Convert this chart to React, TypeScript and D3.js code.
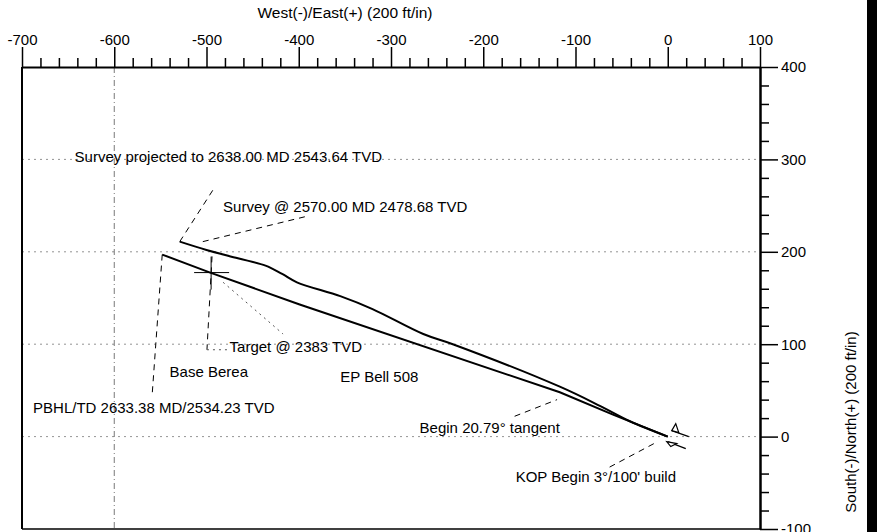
import React, { useEffect, useRef } from 'react';
import * as d3 from 'd3';

// axis ticks (ft)
const eastTicks = [-700, -600, -500, -400, -300, -200, -100, 0, 100];
const northTicks = [-100, 0, 100, 200, 300, 400];
const gridEast = [-600];
const gridNorth = [0, 100, 200, 300];

// planned well path, PBHL -> surface
const planEast = [-548, -496, -399, -117, -60, 0];
const planNorth = [197, 177.5, 143, 48, 24, 0];

// surveyed well path, projected end -> surface
const surveyEast = [-529, -500, -466, -436, -418, -402, -355, -320, -265, -233, -117, -73, -41, 0];
const surveyNorth = [211, 202, 193, 185, 176, 167, 152, 138, 111, 100, 54, 33, 16.6, 0];

const target = { e: -495, n: 177.5 };

const labelText = [
  'Survey projected to 2638.00 MD 2543.64 TVD',
  'Survey @ 2570.00 MD 2478.68 TVD',
  'Target @ 2383 TVD',
  'Base Berea',
  'EP Bell 508',
  'PBHL/TD 2633.38 MD/2534.23 TVD',
  'Begin 20.79° tangent',
  "KOP Begin 3°/100' build",
];

// label anchors in plot units
const labelAt: [number, number, string][] = [
  [-643, 297, 'start'],
  [-482, 243, 'start'],
  [-475, 92, 'start'],
  [-540, 64, 'start'],
  [-355, 59, 'start'],
  [-688, 26, 'start'],
  [-269, 4, 'start'],
  [9, -49, 'end'],
];

// leader lines [e1, n1, e2, n2, style]
const leaders: [number, number, number, number, string][] = [
  [-529, 211, -491, 270, 'dash'],
  [-504, 211, -393, 238, 'dash'],
  [-548, 197, -559, 44, 'dash'],
  [-494, 195, -499.5, 94, 'dash'],
  [-499.5, 94, -475, 94, 'dot'],
  [-482, 167, -417, 111, 'dot'],
  [-166, 22, -120, 40, 'dash'],
  [-63, -33, -12, -6, 'dash'],
];

const W = 877;
const H = 532;
const FONT = "'Liberation Sans', Arial, Helvetica, sans-serif";

const PlanView: React.FC = () => {
  const svgRef = useRef<SVGSVGElement>(null);

  useEffect(() => {
    if (!svgRef.current) return;
    const svg = d3.select(svgRef.current);
    svg.selectAll('*').remove();

    const x = d3.scaleLinear().domain([-700, 100]).range([22, 760]);
    const y = d3.scaleLinear().domain([-100, 400]).range([529, 67]);
    const fmt = (d: any) => String(d); // plain hyphen minus, like the plot

    svg.append('rect').attr('width', W).attr('height', H).attr('fill', '#fff');

    // grid
    svg.append('g')
      .selectAll('line')
      .data(gridNorth)
      .join('line')
      .attr('x1', x(-700)).attr('x2', x(100))
      .attr('y1', d => y(d)).attr('y2', d => y(d))
      .attr('stroke', '#777').attr('stroke-width', 0.8)
      .attr('stroke-dasharray', '2,4');
    svg.append('g')
      .selectAll('line')
      .data(gridEast)
      .join('line')
      .attr('x1', d => x(d)).attr('x2', d => x(d))
      .attr('y1', y(400)).attr('y2', y(-100))
      .attr('stroke', '#555').attr('stroke-width', 0.8)
      .attr('stroke-dasharray', '6,3,1,3');

    // frame (left + bottom)
    svg.append('line')
      .attr('x1', x(-700)).attr('x2', x(-700))
      .attr('y1', y(400)).attr('y2', y(-100))
      .attr('stroke', '#000').attr('stroke-width', 2);
    svg.append('line')
      .attr('x1', x(-700)).attr('x2', x(100))
      .attr('y1', y(-100)).attr('y2', y(-100))
      .attr('stroke', '#000').attr('stroke-width', 1.5);

    // top axis
    const minorE = d3.range(-700, 101, 20).filter(v => v % 100 !== 0);
    const topMinor = svg.append('g').attr('transform', `translate(0,${y(400)})`)
      .call(d3.axisTop(x).tickValues(minorE).tickSize(9).tickSizeOuter(0).tickFormat(() => ''));
    topMinor.select('.domain').remove();
    const top = svg.append('g').attr('transform', `translate(0,${y(400)})`)
      .call(d3.axisTop(x).tickValues(eastTicks).tickSize(20).tickSizeOuter(0).tickPadding(2).tickFormat(fmt));
    top.select('.domain').attr('stroke-width', 2);

    // right axis
    const minorN = d3.range(-100, 401, 20).filter(v => v % 100 !== 0);
    const rightMinor = svg.append('g').attr('transform', `translate(${x(100)},0)`)
      .call(d3.axisRight(y).tickValues(minorN).tickSize(9).tickSizeOuter(0).tickFormat(() => ''));
    rightMinor.select('.domain').remove();
    const right = svg.append('g').attr('transform', `translate(${x(100)},0)`)
      .call(d3.axisRight(y).tickValues(northTicks).tickSize(18).tickSizeOuter(0).tickPadding(3).tickFormat(fmt));
    right.select('.domain').attr('stroke-width', 2.5);

    svg.selectAll('.tick line').attr('stroke', '#000').attr('stroke-width', 1.5);
    svg.selectAll('.tick text')
      .attr('font-family', FONT).attr('font-size', 15).attr('fill', '#000');

    // axis titles
    svg.append('text')
      .attr('x', 345).attr('y', 18)
      .attr('text-anchor', 'middle')
      .attr('font-family', FONT).attr('font-size', 15.5)
      .text('West(-)/East(+) (200 ft/in)');
    svg.append('text')
      .attr('transform', 'translate(856,422) rotate(-90)')
      .attr('text-anchor', 'middle')
      .attr('font-family', FONT).attr('font-size', 15)
      .text('South(-)/North(+) (200 ft/in)');

    // thick bar on the right edge
    svg.append('rect').attr('x', 867).attr('y', 0).attr('width', 10).attr('height', H).attr('fill', '#000');

    // leaders
    svg.append('g')
      .selectAll('line')
      .data(leaders)
      .join('line')
      .attr('x1', d => x(d[0])).attr('y1', d => y(d[1]))
      .attr('x2', d => x(d[2])).attr('y2', d => y(d[3]))
      .attr('stroke', d => (d[4] === 'dot' ? '#555' : '#000'))
      .attr('stroke-width', 1)
      .attr('stroke-dasharray', d => (d[4] === 'dot' ? '2,4' : '6,5'));

    // well paths
    const plan = planEast.map((e, i) => [e, planNorth[i]] as [number, number]);
    const survey = surveyEast.map((e, i) => [e, surveyNorth[i]] as [number, number]);
    const planLine = d3.line<[number, number]>().x(d => x(d[0])).y(d => y(d[1]));
    const surveyLine = d3.line<[number, number]>().x(d => x(d[0])).y(d => y(d[1])).curve(d3.curveCatmullRom);
    svg.append('path').attr('d', planLine(plan)!)
      .attr('fill', 'none').attr('stroke', '#000').attr('stroke-width', 2);
    svg.append('path').attr('d', surveyLine(survey)!)
      .attr('fill', 'none').attr('stroke', '#000').attr('stroke-width', 2);

    // surface tie-in marks
    const tx = x(0);
    const ty = y(0);
    svg.append('line').attr('x1', tx + 4).attr('y1', ty - 6).attr('x2', tx + 21).attr('y2', ty)
      .attr('stroke', '#000').attr('stroke-width', 1.3);
    svg.append('line').attr('x1', tx).attr('y1', ty + 5).attr('x2', tx + 18).attr('y2', ty + 12)
      .attr('stroke', '#000').attr('stroke-width', 1.3);
    svg.append('path').attr('d', `M${tx + 4},${ty - 6} L${tx + 8},${ty - 13} L${tx + 11},${ty - 4} Z`)
      .attr('fill', '#fff').attr('stroke', '#000').attr('stroke-width', 1.2);
    svg.append('path').attr('d', `M${tx - 1},${ty + 5} L${tx + 3},${ty + 10} L${tx + 9},${ty + 7} Z`)
      .attr('fill', '#fff').attr('stroke', '#000').attr('stroke-width', 1.2);

    // target cross
    svg.append('line')
      .attr('x1', x(target.e) - 17).attr('x2', x(target.e) + 18)
      .attr('y1', y(target.n)).attr('y2', y(target.n))
      .attr('stroke', '#000').attr('stroke-width', 1);
    svg.append('line')
      .attr('x1', x(target.e)).attr('x2', x(target.e))
      .attr('y1', y(target.n) - 16).attr('y2', y(target.n) + 17)
      .attr('stroke', '#000').attr('stroke-width', 1);

    // annotations
    svg.append('g')
      .selectAll('text')
      .data(labelText)
      .join('text')
      .attr('x', (d, i) => x(labelAt[i][0]))
      .attr('y', (d, i) => y(labelAt[i][1]))
      .attr('text-anchor', (d, i) => labelAt[i][2])
      .attr('font-family', FONT).attr('font-size', 15).attr('fill', '#000')
      .text(d => d);
  }, []);

  return <svg ref={svgRef} width={W} height={H} style={{ display: 'block' }} />;
};

const App = () => {
  return (
    <div style={{ position: 'absolute', left: 0, top: 0, width: W, height: H, background: '#fff' }}>
      <PlanView />
    </div>
  );
};

export default App;
